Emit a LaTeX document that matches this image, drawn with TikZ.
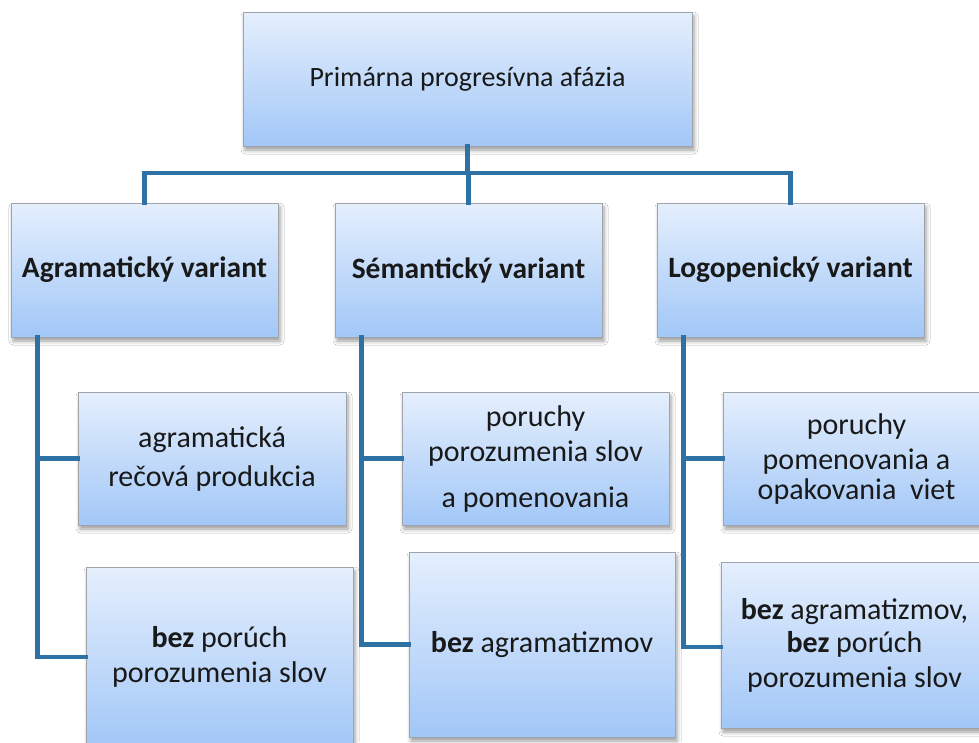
\documentclass[tikz,border=0pt]{standalone}
\usepackage{fontspec}
\setmainfont{Carlito}
\usetikzlibrary{shadows.blur,calc}
\definecolor{boxtop}{RGB}{229,239,253}
\definecolor{boxbot}{RGB}{162,199,247}
\definecolor{boxline}{RGB}{160,164,170}
\definecolor{conncol}{RGB}{46,114,165}
\tikzset{
  orgbox/.style={rectangle, draw=boxline, line width=0.9pt, top color=boxtop, bottom color=boxbot,
    blur shadow={shadow xshift=2pt, shadow yshift=-4pt, shadow blur radius=4pt, shadow opacity=40},
    align=center, inner sep=0pt, font=\fontsize{30}{35}\selectfont, text=black!90},
  conn/.style={draw=conncol, line width=4.5pt, line cap=rect, line join=miter}
}
\begin{document}
\begin{tikzpicture}[x=1pt,y=-1pt]
\clip (0,0) rectangle (979,742);
\fill[white] (0,0) rectangle (979,742);
% top
\node[orgbox, minimum width=449pt, minimum height=134pt, font=\fontsize{28}{34}\selectfont] (top) at (467.5,79) {Primárna progresívna afázia};
% level 2
\node[orgbox, minimum width=267pt, minimum height=134pt, font=\bfseries\fontsize{29.5}{35}\selectfont] (agr) at (144.5,270) {Agramatický variant};
\node[orgbox, minimum width=267pt, minimum height=134pt, font=\bfseries\fontsize{29.5}{35}\selectfont] (sem) at (468.5,270) {Sémantický variant};
\node[orgbox, minimum width=267pt, minimum height=134pt, font=\bfseries\fontsize{29.5}{35}\selectfont] (log) at (790.5,270) {Logopenický variant};
% level 3
\node[orgbox, minimum width=268pt, minimum height=133pt] (a1) at (212,458.5) {agramatická\\[4pt]rečová produkcia};
\node[orgbox, minimum width=267pt, minimum height=180pt] (a2) at (219.5,657) {\textbf{bez} porúch\\porozumenia slov};
\node[orgbox, minimum width=267pt, minimum height=133pt] (b1) at (535.5,458.5) {poruchy\\porozumenia slov\\[11pt]a pomenovania};
\node[orgbox, minimum width=266pt, minimum height=185pt] (b2) at (542,644.5) {\textbf{bez} agramatizmov};
\node[orgbox, minimum width=267pt, minimum height=133pt] (c1) at (856.5,458.5) {poruchy\\[0pt]pomenovania a\\[-5pt]opakovania \ viet};
\node[orgbox, minimum width=267pt, minimum height=166pt] (c2) at (854.5,645) {\textbf{bez} agramatizmov,\\[-2pt]\textbf{bez} porúch\\porozumenia slov};
% connectors
\coordinate (bus) at (468,173);
\draw[conn] (top.south) -- (top.south |- bus);
\draw[conn] (agr.north) |- (bus) -| (log.north);
\draw[conn] (sem.north) -- (sem.north |- bus);
\coordinate (sa) at ($(agr.south west)+(27,0)$);
\coordinate (sb) at ($(sem.south west)+(27,0)$);
\coordinate (sc) at ($(log.south west)+(27,0)$);
\draw[conn] (sa) |- (a1.west);
\draw[conn] (sa) |- (a2.west);
\draw[conn] (sb) |- (b1.west);
\draw[conn] (sb) |- (b2.west);
\draw[conn] (sc) |- (c1.west);
\draw[conn] (sc) |- ($(c2.west)+(0,2)$);
\end{tikzpicture}
\end{document}
